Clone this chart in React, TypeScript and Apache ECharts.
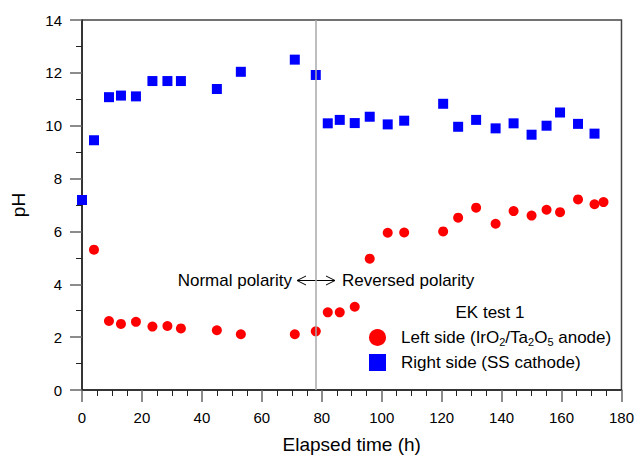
import React, { useEffect, useRef } from "react";
import * as echarts from "echarts";

const leftTime = [0, 4, 9, 13, 18, 23.5, 28.5, 33, 45, 53, 71, 78, 82, 86, 91, 96, 102, 107.5, 120.5, 125.5, 131.5, 138, 144, 150, 155, 159.5, 165.5, 171, 174];
const leftPH = [7.2, 5.31, 2.61, 2.5, 2.58, 2.4, 2.42, 2.33, 2.26, 2.11, 2.11, 2.22, 2.94, 2.94, 3.15, 4.97, 5.95, 5.96, 6.0, 6.52, 6.9, 6.29, 6.77, 6.6, 6.82, 6.73, 7.21, 7.03, 7.11];

const rightTime = [0, 4, 9, 13, 18, 23.5, 28.5, 33, 45, 53, 71, 78, 82, 86, 91, 96, 102, 107.5, 120.5, 125.5, 131.5, 138, 144, 150, 155, 159.5, 165.5, 171];
const rightPH = [7.19, 9.45, 11.08, 11.14, 11.11, 11.69, 11.69, 11.69, 11.39, 12.04, 12.5, 11.92, 10.09, 10.22, 10.1, 10.34, 10.05, 10.19, 10.83, 9.96, 10.22, 9.9, 10.09, 9.66, 10.0, 10.5, 10.07, 9.7];

const xTicks = { min: 0, max: 180, interval: 20 };
const yTicks = { min: 0, max: 14, interval: 2 };
const reversalTime = 78;

const FONT = "'Liberation Sans', Arial, sans-serif";

export default function App() {
  const ref = useRef<HTMLDivElement>(null);
  useEffect(() => {
    const chart = echarts.init(ref.current!, null, { renderer: "svg" });
    const leftData = leftTime.map((t, i) => [t, leftPH[i]]);
    const rightData = rightTime.map((t, i) => [t, rightPH[i]]);
    chart.setOption({
      animation: false,
      textStyle: { fontFamily: FONT },
      grid: {
        left: 82,
        right: 12,
        top: 20,
        bottom: 68,
        show: true,
        borderColor: "#444",
        borderWidth: 1.5,
        backgroundColor: "transparent",
      },
      xAxis: {
        type: "value",
        min: xTicks.min,
        max: xTicks.max,
        interval: xTicks.interval,
        name: "Elapsed time (h)",
        nameLocation: "middle",
        nameGap: 45,
        nameTextStyle: { fontSize: 19, color: "#000", fontFamily: FONT },
        axisLine: { onZero: false, lineStyle: { color: "#222", width: 1.5 } },
        axisTick: { show: true, inside: false, length: 12, lineStyle: { color: "#666", width: 1.5 } },
        minorTick: { show: true, splitNumber: 4, length: 6, lineStyle: { color: "#222", width: 1 } },
        axisLabel: { fontSize: 15, color: "#000", margin: 20, fontFamily: FONT },
        splitLine: { show: false },
      },
      yAxis: {
        type: "value",
        min: yTicks.min,
        max: yTicks.max,
        interval: yTicks.interval,
        name: "pH",
        nameLocation: "middle",
        nameGap: 54,
        nameRotate: 90,
        nameTextStyle: { fontSize: 19, color: "#000", fontFamily: FONT },
        axisLine: { onZero: false, lineStyle: { color: "#222", width: 1.5 } },
        axisTick: { show: true, inside: false, length: 12, lineStyle: { color: "#666", width: 1.5 } },
        minorTick: { show: true, splitNumber: 2, length: 6, lineStyle: { color: "#222", width: 1 } },
        axisLabel: { fontSize: 15, color: "#000", margin: 20, fontFamily: FONT },
        splitLine: { show: false },
      },
      legend: {
        orient: "vertical",
        left: 364,
        top: 324,
        itemWidth: 17,
        itemHeight: 17,
        itemGap: 7,
        selectedMode: false,
        data: [
          { name: "Left side (IrO{sub|2}/Ta{sub|2}O{sub|5} anode)", icon: "circle" },
          { name: "Right side (SS cathode)", icon: "rect" },
        ],
        textStyle: {
          fontSize: 17,
          color: "#000",
          fontFamily: FONT,
          padding: [0, 0, 0, 10],
          rich: {
            sub: { fontSize: 11, verticalAlign: "bottom", padding: [8, 0, 0, 0], fontFamily: FONT, color: "#000" },
          },
        },
      },
      graphic: [
        {
          type: "text",
          x: 490,
          y: 312,
          style: { text: "EK test 1", fontSize: 17, fontFamily: FONT, fill: "#000", align: "center", verticalAlign: "middle" },
        },
        {
          type: "text",
          x: 292,
          y: 280,
          style: { text: "Normal polarity", fontSize: 17, fontFamily: FONT, fill: "#000", align: "right", verticalAlign: "middle" },
        },
        {
          type: "text",
          x: 342,
          y: 280,
          style: { text: "Reversed polarity", fontSize: 17, fontFamily: FONT, fill: "#000", align: "left", verticalAlign: "middle" },
        },
        { type: "line", shape: { x1: 297, y1: 280.5, x2: 335, y2: 280.5 }, style: { stroke: "#000", lineWidth: 1 } },
        { type: "polyline", shape: { points: [[306, 276], [297, 280.5], [306, 285]] }, style: { stroke: "#000", lineWidth: 1, fill: null } },
        { type: "polyline", shape: { points: [[326, 276], [335, 280.5], [326, 285]] }, style: { stroke: "#000", lineWidth: 1, fill: null } },
      ],
      series: [
        {
          name: "Left side (IrO{sub|2}/Ta{sub|2}O{sub|5} anode)",
          type: "scatter",
          symbol: "circle",
          symbolSize: 10,
          itemStyle: { color: "#ff0000", opacity: 1 },
          data: leftData,
          markLine: {
            silent: true,
            symbol: "none",
            label: { show: false },
            lineStyle: { color: "#a8a8a8", width: 1.5, type: "solid" },
            data: [{ xAxis: reversalTime }],
          },
          z: 2,
        },
        {
          name: "Right side (SS cathode)",
          type: "scatter",
          symbol: "rect",
          symbolSize: 10,
          itemStyle: { color: "#0000ff", opacity: 1 },
          data: rightData,
          z: 3,
        },
      ],
    });
    return () => chart.dispose();
  }, []);
  return <div ref={ref} style={{ width: 637, height: 459, position: "absolute", left: 0, top: 0 }} />;
}
